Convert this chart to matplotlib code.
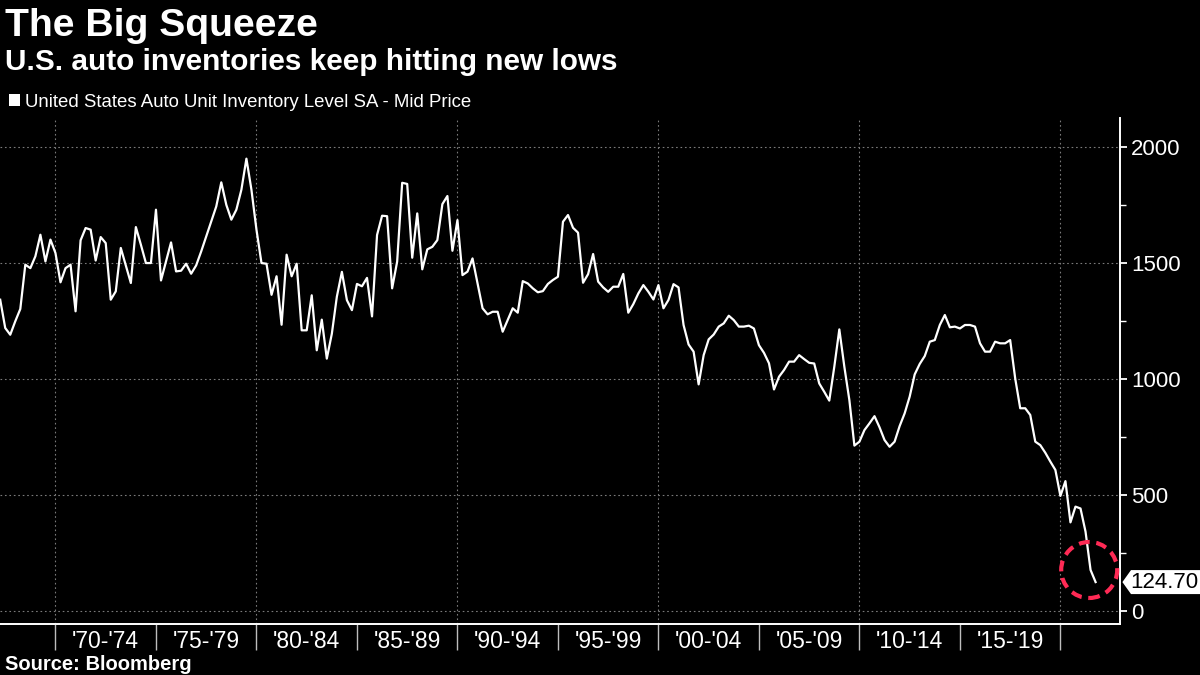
import numpy as np
import matplotlib
matplotlib.use("Agg")
import matplotlib.pyplot as plt
from matplotlib.patches import Ellipse, Polygon, Rectangle
from matplotlib.transforms import blended_transform_factory

plt.rcParams['font.family'] = ['Liberation Sans', 'DejaVu Sans']

# ---- data (quarterly, thousands of units) ----
start_year = 1967.25
step_years = 0.25
inventory = [
    1342, 1220, 1191, 1249, 1302, 1493, 1478, 1529, 1622, 1507,
    1601, 1543, 1417, 1478, 1493, 1292, 1598, 1651, 1644, 1511,
    1612, 1586, 1342, 1378, 1565, 1489, 1414, 1655, 1579, 1500,
    1500, 1730, 1425, 1507, 1589, 1464, 1467, 1497, 1454, 1490,
    1550, 1615, 1680, 1744, 1848, 1751, 1687, 1730, 1816, 1950,
    1816, 1644, 1500, 1497, 1363, 1443, 1234, 1536, 1443, 1497,
    1210, 1210, 1361, 1124, 1256, 1088, 1195, 1355, 1462, 1340,
    1297, 1410, 1400, 1436, 1270, 1621, 1704, 1702, 1391, 1506,
    1846, 1841, 1523, 1714, 1473, 1559, 1570, 1599, 1754, 1789,
    1553, 1685, 1448, 1463, 1520, 1412, 1305, 1279, 1290, 1290,
    1204, 1254, 1305, 1286, 1422, 1412, 1391, 1374, 1379, 1410,
    1427, 1441, 1678, 1707, 1652, 1631, 1415, 1452, 1539, 1420,
    1395, 1376, 1398, 1398, 1453, 1286, 1323, 1369, 1405, 1376,
    1343, 1405, 1305, 1341, 1409, 1395, 1233, 1149, 1118, 977,
    1103, 1171, 1192, 1226, 1240, 1273, 1254, 1226, 1226, 1230,
    1218, 1146, 1113, 1068, 955, 1010, 1039, 1075, 1075, 1103,
    1086, 1070, 1067, 981, 945, 907, 1053, 1214, 1053, 909,
    713, 730, 780, 809, 840, 792, 737, 708, 730, 797,
    852, 924, 1020, 1065, 1099, 1161, 1168, 1233, 1276, 1223,
    1226, 1218, 1233, 1233, 1226, 1154, 1118, 1118, 1161, 1154,
    1154, 1168, 1003, 874, 874, 845, 730, 715, 682, 644,
    608, 496, 560, 382, 450, 442, 342, 177, 124.7,
]
last_value = 124.70
band_edges = [1970, 1975, 1980, 1985, 1990, 1995, 2000, 2005, 2010, 2015, 2020]
band_labels = ["'70-'74", "'75-'79", "'80-'84", "'85-'89", "'90-'94",
               "'95-'99", "'00-'04", "'05-'09", "'10-'14", "'15-'19"]
decade_lines = [1970, 1980, 1990, 2000, 2010, 2020]
y_major = [0, 500, 1000, 1500, 2000]
y_minor = [250, 750, 1250, 1750]

title = "The Big Squeeze"
subtitle = "U.S. auto inventories keep hitting new lows"
legend_label = "United States Auto Unit Inventory Level SA - Mid Price"
source = "Source: Bloomberg"

W, H = 1200, 675
fig = plt.figure(figsize=(12, 6.75), dpi=100, facecolor="black")
ax_left, ax_right, ax_top, ax_bottom = 0.0, 1119.7, 118.3, 624.3
ax = fig.add_axes([ax_left / W, 1 - ax_bottom / H,
                   (ax_right - ax_left) / W, (ax_bottom - ax_top) / H])
ax.set_facecolor("black")

x = start_year + step_years * np.arange(len(inventory))
ax.plot(x, inventory, color="white", lw=1.6, zorder=3)

xmin, xmax = 1967.24, 2022.95
ymin, ymax = -57.3, 2124
ax.set_xlim(xmin, xmax)
ax.set_ylim(ymin, ymax)

grid_kw = dict(color="#7a7a7a", lw=0.8, ls=(0, (1.5, 2.5)), zorder=1)
for yv in y_major:
    ax.axhline(yv, **grid_kw)
for xv in decade_lines:
    ax.axvline(xv, **grid_kw)

for s in ["left", "top"]:
    ax.spines[s].set_visible(False)
for s in ["right", "bottom"]:
    ax.spines[s].set_color("white")
    ax.spines[s].set_linewidth(1.4)

# y axis on right
ax.yaxis.tick_right()
ax.set_yticks(y_major)
ax.set_yticks(y_minor, minor=True)
ax.set_yticklabels([str(v) for v in y_major])
ax.tick_params(axis="y", which="major", direction="out", length=5, width=1.3,
               color="white", labelcolor="white", labelsize=16, pad=3)
ax.tick_params(axis="y", which="minor", direction="out", length=4, width=1.0,
               color="white")

# x axis: separators as major ticks, labels centred as minor ticks
centers = [(a + b) / 2 for a, b in zip(band_edges[:-1], band_edges[1:])]
ax.set_xticks(band_edges)
ax.set_xticklabels([""] * len(band_edges))
ax.set_xticks(centers, minor=True)
ax.set_xticklabels(band_labels, minor=True)
ax.tick_params(axis="x", which="major", direction="out", length=18.5, width=1.0,
               color="#bdbdbd")
ax.tick_params(axis="x", which="minor", length=0, labelsize=16.5,
               labelcolor="white", pad=4)

# red dashed circle around latest value
px_per_year = (ax_right - ax_left) / (xmax - xmin)
px_per_unit = (ax_bottom - ax_top) / (ymax - ymin)
cx = xmin + (1089.2 - ax_left) / px_per_year
cy = ymin + (ax_bottom - 570.0) / px_per_unit
r_px = 28.0
circ = Ellipse((cx, cy), width=2 * r_px / px_per_year, height=2 * r_px / px_per_unit,
               fill=False, edgecolor="#ff2a55", lw=3.0, ls=(0, (2.6, 1.6)),
               zorder=4, clip_on=False)
ax.add_patch(circ)

# last value tag
tr = blended_transform_factory(ax.transAxes, ax.transData)
half = 12.0 / px_per_unit
tip = 1122.4 / ax_right
neck = 1131.0 / ax_right
poly = Polygon([(tip, last_value), (neck, last_value + half), (1.1, last_value + half),
                (1.1, last_value - half), (neck, last_value - half)],
               closed=True, facecolor="white", edgecolor="none",
               transform=tr, clip_on=False, zorder=5)
ax.add_patch(poly)
ax.text(1130.5 / ax_right, last_value, f"{last_value:.2f}", transform=tr,
        ha="left", va="center", fontsize=16, color="black", zorder=6, clip_on=False)

# titles and annotations
fig.text(5 / W, 1 - 36 / H, title, fontsize=28.2, fontweight="bold",
         color="white", va="baseline", ha="left")
fig.text(5 / W, 1 - 70 / H, subtitle, fontsize=21.4, fontweight="bold",
         color="white", va="baseline", ha="left")
fig.patches.append(Rectangle((9 / W, 1 - 106 / H), 11 / W, 12 / H,
                             transform=fig.transFigure, facecolor="white",
                             edgecolor="none"))
fig.text(25 / W, 1 - 107 / H, legend_label, fontsize=13.4, color="white",
         va="baseline", ha="left")
fig.text(5 / W, 1 - 670 / H, source, fontsize=14.5, fontweight="bold",
         color="white", va="baseline", ha="left")

fig.savefig("out.png", dpi=100, facecolor="black")
